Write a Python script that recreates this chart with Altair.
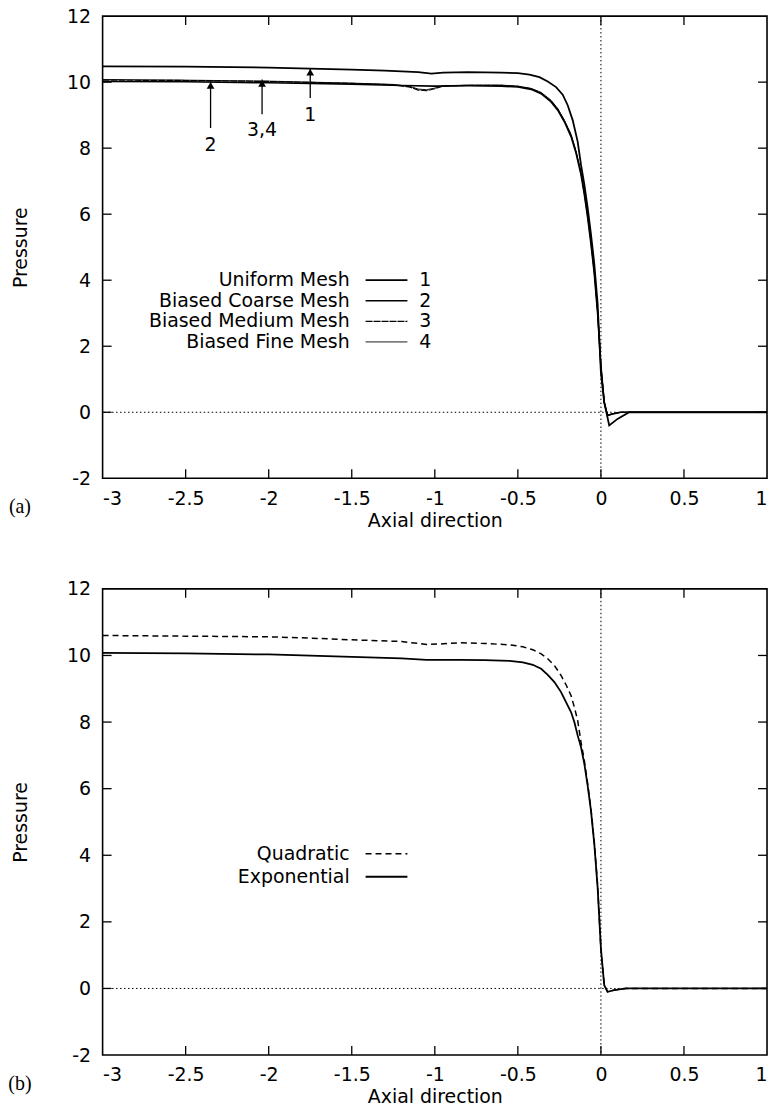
import altair as alt
import pandas as pd

# ---------------- Panel (a): mesh study ----------------
x_uniform = [-3.0, -2.5, -2.0, -1.75, -1.5, -1.3, -1.1, -1.02, -0.95, -0.8, -0.6, -0.5, -0.43, -0.37,
             -0.32, -0.27, -0.23, -0.2, -0.17, -0.14, -0.12, -0.1, -0.08, -0.06, -0.04, -0.02, 0.0,
             0.02, 0.05, 0.1, 0.17, 0.3, 0.6, 1.0]
p_uniform = [10.48, 10.47, 10.44, 10.41, 10.38, 10.35, 10.3, 10.26, 10.29, 10.3, 10.29, 10.27, 10.23, 10.15,
             10.02, 9.85, 9.62, 9.3, 8.85, 8.2, 7.5, 6.9, 6.2, 5.4, 4.5, 3.3, 1.2,
             0.3, -0.4, -0.2, 0.0, 0.0, 0.0, 0.0]

x_coarse = [-3.0, -2.5, -2.0, -1.5, -1.2, -1.0, -0.8, -0.6, -0.5, -0.42, -0.36, -0.3, -0.26, -0.22,
            -0.18, -0.15, -0.12, -0.1, -0.08, -0.06, -0.04, -0.02, 0.0, 0.02, 0.04, 0.07, 0.12, 0.2, 0.5, 1.0]
p_coarse = [10.02, 10.01, 9.98, 9.94, 9.9, 9.88, 9.89, 9.88, 9.85, 9.78, 9.65, 9.4, 9.15, 8.8,
            8.35, 7.85, 7.2, 6.6, 5.9, 5.1, 4.2, 3.0, 1.4, 0.3, -0.1, -0.05, 0.0, 0.0, 0.0, 0.0]

x_medium = [-3.0, -2.5, -2.0, -1.5, -1.25, -1.15, -1.1, -1.05, -1.0, -0.95, -0.8, -0.6, -0.5, -0.42,
            -0.36, -0.3, -0.26, -0.22, -0.18, -0.15, -0.12, -0.1, -0.08, -0.06, -0.04, -0.02, 0.0,
            0.02, 0.04, 0.07, 0.12, 0.2, 0.5, 1.0]
p_medium = [10.06, 10.05, 10.02, 9.96, 9.92, 9.85, 9.76, 9.74, 9.8, 9.88, 9.9, 9.9, 9.87, 9.8,
            9.67, 9.43, 9.18, 8.83, 8.4, 7.9, 7.25, 6.65, 5.95, 5.15, 4.25, 3.05, 1.4,
            0.3, -0.1, -0.05, 0.0, 0.0, 0.0, 0.0]

x_fine = x_medium
p_fine = [10.08, 10.06, 10.03, 9.97, 9.93, 9.87, 9.79, 9.77, 9.82, 9.89, 9.91, 9.91, 9.88, 9.81,
          9.69, 9.45, 9.2, 8.85, 8.42, 7.92, 7.28, 6.68, 5.98, 5.18, 4.28, 3.08, 1.42,
          0.3, -0.08, -0.04, 0.0, 0.0, 0.0, 0.0]

legend_a = ["Uniform Mesh", "Biased Coarse Mesh", "Biased Medium Mesh", "Biased Fine Mesh"]
legend_a_num = ["1", "2", "3", "4"]

arrow_x = [-1.75, -2.04, -2.35]
arrow_tip = [10.42, 10.08, 10.02]
arrow_tail = [9.52, 9.03, 8.61]
arrow_label_p = [9.0, 8.55, 8.1]
arrow_label = ["1", "3,4", "2"]

# ---------------- Panel (b): profile study ----------------
x_b = [-3.0, -2.5, -2.0, -1.8, -1.5, -1.2, -1.05, -0.95, -0.85, -0.7, -0.55, -0.47, -0.41, -0.36,
       -0.32, -0.28, -0.24, -0.21, -0.18, -0.16, -0.14, -0.12, -0.1, -0.08, -0.06, -0.04, -0.02,
       0.0, 0.02, 0.04, 0.08, 0.15, 0.3, 0.6, 1.0]
p_quadratic = [10.6, 10.58, 10.56, 10.53, 10.47, 10.42, 10.33, 10.35, 10.38, 10.36, 10.32, 10.26, 10.17, 10.05,
               9.9, 9.7, 9.4, 9.12, 8.8, 8.45, 8.05, 7.4, 6.85, 6.15, 5.4, 4.4, 3.1,
               1.2, 0.1, -0.1, -0.05, 0.0, 0.0, 0.0, 0.0]
p_exponential = [10.08, 10.06, 10.03, 10.0, 9.96, 9.91, 9.87, 9.87, 9.87, 9.86, 9.84, 9.79, 9.72, 9.6,
                 9.42, 9.2, 8.9, 8.6, 8.3, 8.0, 7.6, 7.25, 6.75, 6.1, 5.35, 4.35, 3.05,
                 1.2, 0.1, -0.1, -0.05, 0.0, 0.0, 0.0, 0.0]
legend_b = ["Quadratic", "Exponential"]

# ---------------- axes ----------------
x_ticks = [-3, -2.5, -2, -1.5, -1, -0.5, 0, 0.5, 1]
y_ticks = [-2, 0, 2, 4, 6, 8, 10, 12]
x_inner_ticks = [-2.5, -2, -1.5, -1, -0.5, 0, 0.5]
y_inner_ticks = [0, 2, 4, 6, 8, 10]

FONT = "DejaVu Sans"
W = 667
TICK = 9


def X():
    return alt.X("x:Q", scale=alt.Scale(domain=[-3, 1], nice=False, zero=False),
                 axis=alt.Axis(values=x_ticks, title="Axial direction", labelExpr="'' + datum.value",
                               labelPadding=11, titlePadding=3))


def Y():
    return alt.Y("p:Q", scale=alt.Scale(domain=[-2, 12], nice=False, zero=False),
                 axis=alt.Axis(values=y_ticks, title="Pressure", labelExpr="'' + datum.value",
                               labelPadding=12, titlePadding=36))


def line(xs, ps, **kw):
    df = pd.DataFrame({"x": xs, "p": ps})
    return alt.Chart(df).mark_line(color="black", **kw).encode(x=X(), y=Y())


def frame_ticks(H):
    xt = pd.DataFrame({"x": x_inner_ticks})
    yt = pd.DataFrame({"p": y_inner_ticks})
    st = dict(color="black", strokeWidth=1.3)
    return [
        alt.Chart(xt).mark_rule(**st).encode(x=X(), y=alt.value(H), y2=alt.value(H - TICK)),
        alt.Chart(xt).mark_rule(**st).encode(x=X(), y=alt.value(0), y2=alt.value(TICK)),
        alt.Chart(yt).mark_rule(**st).encode(y=Y(), x=alt.value(0), x2=alt.value(TICK)),
        alt.Chart(yt).mark_rule(**st).encode(y=Y(), x=alt.value(W), x2=alt.value(W - TICK)),
    ]


def zero_lines():
    dot = dict(color="black", strokeWidth=1, strokeDash=[1.5, 2.5])
    return [
        alt.Chart(pd.DataFrame({"x": [0]})).mark_rule(**dot).encode(x=X()),
        alt.Chart(pd.DataFrame({"p": [0]})).mark_rule(**dot).encode(y=Y()),
    ]


def legend_rows(labels, nums, styles, y0, dy):
    layers = []
    for i, lab in enumerate(labels):
        yy = y0 + i * dy
        layers.append(alt.Chart(pd.DataFrame({"t": [lab]})).mark_text(
            align="right", baseline="middle", font=FONT, fontSize=19, color="black").encode(
            text="t:N", x=alt.value(248), y=alt.value(yy)))
        layers.append(alt.Chart(pd.DataFrame({"t": [lab]})).mark_rule(color="black", **styles[i]).encode(
            x=alt.value(264), x2=alt.value(306), y=alt.value(yy)))
        if nums:
            layers.append(alt.Chart(pd.DataFrame({"t": [nums[i]]})).mark_text(
                align="left", baseline="middle", font=FONT, fontSize=19, color="black").encode(
                text="t:N", x=alt.value(318), y=alt.value(yy)))
    return layers


def tag(label, H):
    return alt.Chart(pd.DataFrame({"t": [label]})).mark_text(
        align="center", baseline="middle", font="Liberation Serif", fontSize=20, color="black").encode(
        text="t:N", x=alt.value(-83), y=alt.value(H + 29))


# ---------- panel a ----------
HA = 464
styles_a = [dict(strokeWidth=1.8), dict(strokeWidth=1.6),
            dict(strokeWidth=1.2, strokeDash=[7, 1]), dict(strokeWidth=0.9)]
curves_a = [
    line(x_uniform, p_uniform, **styles_a[0]),
    line(x_coarse, p_coarse, **styles_a[1]),
    line(x_medium, p_medium, **styles_a[2]),
    line(x_fine, p_fine, **styles_a[3]),
]
arr = pd.DataFrame({"x": arrow_x, "p": arrow_tail, "p2": arrow_tip})
arrow_shafts = alt.Chart(arr).mark_rule(color="black", strokeWidth=1.3).encode(x=X(), y=Y(), y2="p2:Q")
arrow_heads = alt.Chart(pd.DataFrame({"x": arrow_x, "p": arrow_tip})).mark_point(
    shape="triangle-up", filled=True, color="black", size=60, opacity=1, yOffset=4).encode(x=X(), y=Y())
arrow_text = alt.Chart(pd.DataFrame({"x": arrow_x, "p": arrow_label_p, "t": arrow_label})).mark_text(
    font=FONT, fontSize=19, color="black", baseline="middle").encode(x=X(), y=Y(), text="t:N")

panel_a = alt.layer(
    *zero_lines(), *frame_ticks(HA), *curves_a, arrow_shafts, arrow_heads, arrow_text,
    *legend_rows(legend_a, legend_a_num, styles_a, 265, 20.7), tag("(a)", HA)
).properties(width=W, height=HA)

# ---------- panel b ----------
HB = 468
styles_b = [dict(strokeWidth=1.5, strokeDash=[6, 4]), dict(strokeWidth=1.8)]
panel_b = alt.layer(
    *zero_lines(), *frame_ticks(HB),
    line(x_b, p_quadratic, **styles_b[0]),
    line(x_b, p_exponential, **styles_b[1]),
    *legend_rows(legend_b, None, styles_b, 266, 23), tag("(b)", HB)
).properties(width=W, height=HB)

chart = alt.vconcat(panel_a, panel_b, spacing=48).properties(
    padding={"left": 7, "top": 4, "right": 0, "bottom": 0}
).configure_view(stroke="black", strokeWidth=1.6).configure_axis(
    domain=False, ticks=False, grid=False,
    labelFont=FONT, labelFontSize=19, labelColor="black",
    titleFont=FONT, titleFontSize=19, titleFontWeight="normal", titleColor="black"
)

chart.save("out.html", embed_options={"renderer": "svg", "actions": False})
